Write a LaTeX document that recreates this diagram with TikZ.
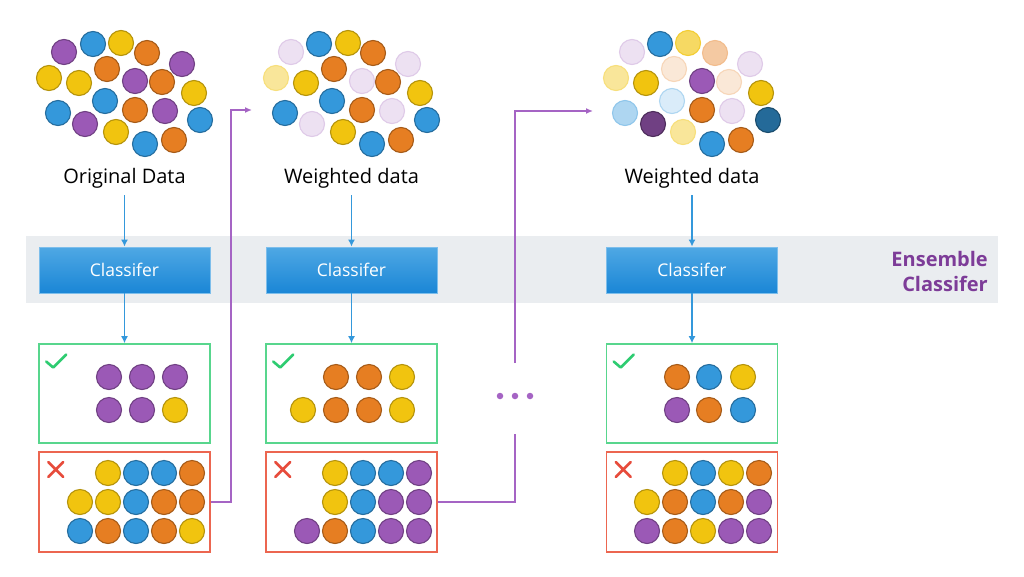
\documentclass[tikz,border=0pt]{standalone}
\usepackage{fontspec}
\setmainfont{Open Sans}
\usetikzlibrary{arrows.meta}
\definecolor{cbl}{HTML}{3498DB}
\definecolor{cor}{HTML}{E67E22}
\definecolor{cye}{HTML}{F1C40F}
\definecolor{cpu}{HTML}{9B59B6}
\definecolor{lnpu}{HTML}{A564C4}
\definecolor{ensp}{HTML}{7D3C98}
\definecolor{bandg}{HTML}{EAEDF0}
\definecolor{gbox}{HTML}{58D68D}
\definecolor{rbox}{HTML}{EC6650}
\definecolor{chk}{HTML}{2ECC71}
\definecolor{crs}{HTML}{E74C3C}
\definecolor{ctop}{HTML}{4FA8E4}
\definecolor{cbot}{HTML}{1A86D6}
\definecolor{cedge}{HTML}{7DBEEB}
\begin{document}
\begin{tikzpicture}[x=1pt,y=-1pt,
  ball/.style={circle,minimum size=25,inner sep=0,line width=1.1},
  ballB/.style={ball,fill=cbl,draw=cbl!72!black},
  ballO/.style={ball,fill=cor,draw=cor!72!black},
  ballY/.style={ball,fill=cye,draw=cye!75!black},
  ballP/.style={ball,fill=cpu,draw=cpu!72!black},
  ballLP/.style={ball,fill=cpu!18,draw=cpu!32},
  ballLY/.style={ball,fill=cye!42,draw=cye!55},
  ballMY/.style={ball,fill=cye!65,draw=cye!85},
  ballLO/.style={ball,fill=cor!42,draw=cor!52},
  ballVLO/.style={ball,fill=cor!18,draw=cor!32},
  ballLB/.style={ball,fill=cbl!40,draw=cbl!55},
  ballVLB/.style={ball,fill=cbl!18,draw=cbl!40},
  ballDB/.style={ball,fill=cbl!70!black,draw=cbl!50!black},
  ballDP/.style={ball,fill=cpu!72!black,draw=cpu!50!black},
  lbl/.style={font=\fontsize{20}{24}\selectfont,text height=14,text depth=4,inner xsep=0,inner ysep=8},
  cls/.style={minimum width=171,minimum height=46,inner sep=0,top color=ctop,bottom color=cbot,draw=cedge,line width=0.8,text=white,font=\fontsize{17.5}{20}\selectfont},
  okbox/.style={draw=gbox,line width=1.6,minimum width=171,minimum height=99,inner sep=0},
  badbox/.style={draw=rbox,line width=1.6,minimum width=171,minimum height=100,inner sep=0},
  barrow/.style={draw=cbl,line width=1.6,-{Latex[length=7,width=7]}},
  pline/.style={draw=lnpu,line width=1.6},
  parrow/.style={pline,-{Latex[length=7,width=6]}},
  chkmark/.style={draw=chk,line width=2.6,line cap=round,line join=round},
  crossmark/.style={draw=crs,line width=2.6,line cap=round},
  pdot/.style={circle,fill=lnpu,minimum size=6.5,inner sep=0}
]
\useasboundingbox (0,0) rectangle (1024,576);
\fill[white] (0,0) rectangle (1024,576);

% band
\node[fill=bandg,minimum width=972,minimum height=67,inner sep=0] (band) at (512,269.5) {};
\node[font=\fontsize{20}{25}\selectfont\bfseries,text=ensp,align=right,anchor=east,inner sep=0] (ens) at (988,271) {Ensemble\\Classifer};

% labels
\node[lbl] (t1) at (124.5,178) {Original Data};
\node[lbl] (t2) at (351.5,178) {Weighted data};
\node[lbl] (t3) at (692,178) {Weighted data};

% classifiers
\node[cls] (c1) at (124.5,270) {Classifer};
\node[cls] (c2) at (351.5,270) {Classifer};
\node[cls] (c3) at (692,270) {Classifer};

% result boxes
\node[okbox] (g1) at (124.5,393.5) {};
\node[okbox] (g2) at (351.5,393.5) {};
\node[okbox] (g3) at (692,393.5) {};
\node[badbox] (r1) at (124.5,502) {};
\node[badbox] (r2) at (351.5,502) {};
\node[badbox] (r3) at (692,502) {};

% blue arrows
\foreach \i in {1,2,3}{
  \draw[barrow] (t\i.south) -- (c\i.north);
  \draw[barrow] (c\i.south) -- (g\i.north);
}

% check and cross marks
\foreach \i in {1,2,3}{
  \draw[chkmark] ([shift={(8,-32)}]g\i.west) -- ++(7,6) -- ++(13,-13);
  \draw[crossmark] ([shift={(10,-40)}]r\i.west) -- ++(15,15) ([shift={(25,-40)}]r\i.west) -- ++(-15,15);
}

% cloud 1
\foreach \x/\y/\s [count=\i] in {
 64/52/ballP, 93/44/ballB, 121/43/ballY, 147/53/ballO, 182/64/ballP,
 49/78/ballY, 79/83/ballY, 107/69/ballO, 135/81/ballP, 162/82/ballO,
 194/93/ballY, 58/113/ballB, 105/101/ballB, 135/110/ballO, 165/111/ballP,
 200/120/ballB, 85/124/ballP, 116/132/ballY, 145/144/ballB, 174/140/ballO}
 \node[\s] (a\i) at (\x,\y) {};

% cloud 2
\foreach \x/\y/\s [count=\i] in {
 291/52/ballLP, 319/44/ballB, 348/43/ballY, 373/53/ballO, 408/64/ballLP,
 276/78/ballLY, 306/83/ballY, 334/69/ballO, 362/81/ballLP, 388/82/ballO,
 420/93/ballY, 285/113/ballB, 332/101/ballB, 362/110/ballO, 392/111/ballLP,
 427/120/ballB, 312/124/ballLP, 343/132/ballY, 372/144/ballB, 401/140/ballO}
 \node[\s] (b\i) at (\x,\y) {};

% cloud 3
\foreach \x/\y/\s [count=\i] in {
 632/52/ballLP, 660/44/ballB, 688/43/ballMY, 715/53/ballLO, 750/64/ballLP,
 616/78/ballLY, 646/83/ballY, 674/69/ballVLO, 702/81/ballP, 729/82/ballVLO,
 761/93/ballY, 625/113/ballLB, 672/101/ballVLB, 702/110/ballO, 732/111/ballLP,
 768/120/ballDB, 653/124/ballDP, 683/132/ballLY, 712/144/ballB, 741/140/ballO}
 \node[\s] (d\i) at (\x,\y) {};

% green box contents
\foreach \x/\y/\s [count=\i] in {
 109/377/ballP, 142/377/ballP, 175/377/ballP, 109/410/ballP, 142/410/ballP, 175/410/ballY}
 \node[\s] (ga\i) at (\x,\y) {};
\foreach \x/\y/\s [count=\i] in {
 336/377/ballO, 369/377/ballO, 402/377/ballY, 303/410/ballY, 336/410/ballO, 369/410/ballO, 402/410/ballY}
 \node[\s] (gb\i) at (\x,\y) {};
\foreach \x/\y/\s [count=\i] in {
 677/377/ballO, 709/377/ballB, 743/377/ballY, 677/410/ballP, 709/410/ballO, 743/410/ballB}
 \node[\s] (gc\i) at (\x,\y) {};

% red box contents
\foreach \x/\y/\s [count=\i] in {
 108/473/ballY, 136/473/ballB, 164/473/ballB, 192/473/ballO,
 80/502/ballY, 108/502/ballY, 136/502/ballB, 164/502/ballO, 192/502/ballO,
 80/531/ballB, 108/531/ballO, 136/531/ballB, 164/531/ballO, 192/531/ballY}
 \node[\s] (ra\i) at (\x,\y) {};
\foreach \x/\y/\s [count=\i] in {
 335/473/ballY, 363/473/ballB, 391/473/ballB, 419/473/ballP,
 335/502/ballY, 363/502/ballB, 391/502/ballP, 419/502/ballP,
 307/531/ballP, 335/531/ballO, 363/531/ballB, 391/531/ballP, 419/531/ballP}
 \node[\s] (rb\i) at (\x,\y) {};
\foreach \x/\y/\s [count=\i] in {
 675/473/ballY, 703/473/ballB, 731/473/ballY, 759/473/ballO,
 647/502/ballY, 675/502/ballO, 703/502/ballB, 731/502/ballO, 759/502/ballP,
 647/531/ballP, 675/531/ballO, 703/531/ballY, 731/531/ballP, 759/531/ballP}
 \node[\s] (rc\i) at (\x,\y) {};

% purple connectors
\coordinate (k1) at (231,110);
\coordinate (e1) at (252,110);
\draw[parrow] (r1.east) -| (k1) -- (e1);

\node[pdot] (p1) at (500,396) {};
\node[pdot] (p2) at (515,396) {};
\node[pdot] (p3) at (530,396) {};
\coordinate (gapl) at (515,434);
\coordinate (gapu) at (515,363);
\coordinate (e2) at (593,111);
\draw[pline] (r2.east) -| (gapl);
\draw[parrow] (gapu) |- (e2);
\end{tikzpicture}
\end{document}
